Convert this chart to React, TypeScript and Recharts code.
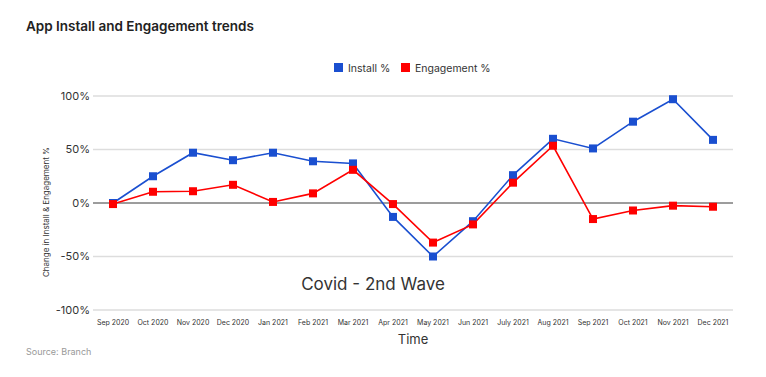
import React from "react";
import { LineChart, Line, XAxis, YAxis, CartesianGrid, ReferenceLine, Customized } from "recharts";

const months = ["Sep 2020","Oct 2020","Nov 2020","Dec 2020","Jan 2021","Feb 2021","Mar 2021","Apr 2021","May 2021","Jun 2021","July 2021","Aug 2021","Sep 2021","Oct 2021","Nov 2021","Dec 2021"];
const installPct = [0, 25, 47, 40, 47, 39, 37, -13, -50, -17, 26, 60, 51, 76, 97, 59];
const engagementPct = [-1, 10.5, 11, 17, 1, 9, 31, -1, -37, -20, 19, 53.5, -15, -7, -2.5, -3.5];
const yTicks = [-100, -50, 0, 50, 100];
const seriesNames = ["Install %", "Engagement %"];
const seriesColors = ["#1a4fd0", "#ff0000"];

const data = months.map((m, i) => ({ month: m, install: installPct[i], engagement: engagementPct[i] }));

const FONT = "Inter, 'Noto Sans', sans-serif";

const SquareDot = (color: string) => (props: any) => {
  const { cx, cy, index } = props;
  if (cx == null || cy == null) return <g key={index} />;
  return <rect key={index} x={cx - 4} y={cy - 4} width={8} height={8} fill={color} />;
};

const Overlay = () => (
  <g fontFamily={FONT}>
    <rect x={334} y={63} width={9} height={9} fill={seriesColors[0]} />
    <text x={348} y={71.5} fontSize={10.5} fill="#333">{seriesNames[0]}</text>
    <rect x={401} y={63} width={9} height={9} fill={seriesColors[1]} />
    <text x={415} y={71.5} fontSize={10.5} fill="#333">{seriesNames[1]}</text>
    <text x={373} y={290} textAnchor="middle" fontSize={17} fill="#333">Covid - 2nd Wave</text>
    <text x={0} y={0} transform="translate(49,212) rotate(-90)" textAnchor="middle" fontSize={8} fill="#333">Change in Install &amp; Engagement %</text>
  </g>
);

export default function App() {
  return (
    <div style={{ position: "absolute", left: 0, top: 0, width: 766, height: 377, background: "#fff", fontFamily: FONT }}>
      <div style={{ position: "absolute", left: 26, top: 18, fontSize: 13.5, fontWeight: 600, color: "#222" }}>
        App Install and Engagement trends
      </div>
      <div style={{ position: "absolute", left: 26, top: 346, fontSize: 9, color: "#999" }}>Source: Branch</div>
      <LineChart width={766} height={377} data={data} margin={{ top: 96, right: 33, bottom: 37, left: 43 }}>
        <CartesianGrid horizontal vertical={false} stroke="#dddddd" strokeWidth={1.5} />
        <XAxis
          dataKey="month"
          axisLine={false}
          tickLine={false}
          interval={0}
          padding={{ left: 20, right: 20 }}
          tick={{ fontSize: 7, fill: "#333", fontFamily: FONT }}
          tickMargin={4}
          height={30}
          label={{ value: "Time", position: "bottom", offset: -5, fontSize: 13, fill: "#333", fontFamily: FONT }}
        />
        <YAxis
          domain={[-100, 100]}
          ticks={yTicks}
          tickFormatter={(v: number) => `${v}%`}
          axisLine={false}
          tickLine={false}
          tickSize={0}
          tickMargin={3}
          width={50}
          tick={{ fontSize: 11, fill: "#333", fontFamily: FONT }}
        />
        <ReferenceLine y={0} stroke="#555" strokeWidth={1} />
        <Line
          type="linear"
          dataKey="install"
          name={seriesNames[0]}
          stroke={seriesColors[0]}
          strokeWidth={1.6}
          dot={SquareDot(seriesColors[0])}
          activeDot={false}
          isAnimationActive={false}
        />
        <Line
          type="linear"
          dataKey="engagement"
          name={seriesNames[1]}
          stroke={seriesColors[1]}
          strokeWidth={1.6}
          dot={SquareDot(seriesColors[1])}
          activeDot={false}
          isAnimationActive={false}
        />
        <Customized component={Overlay} />
      </LineChart>
    </div>
  );
}
